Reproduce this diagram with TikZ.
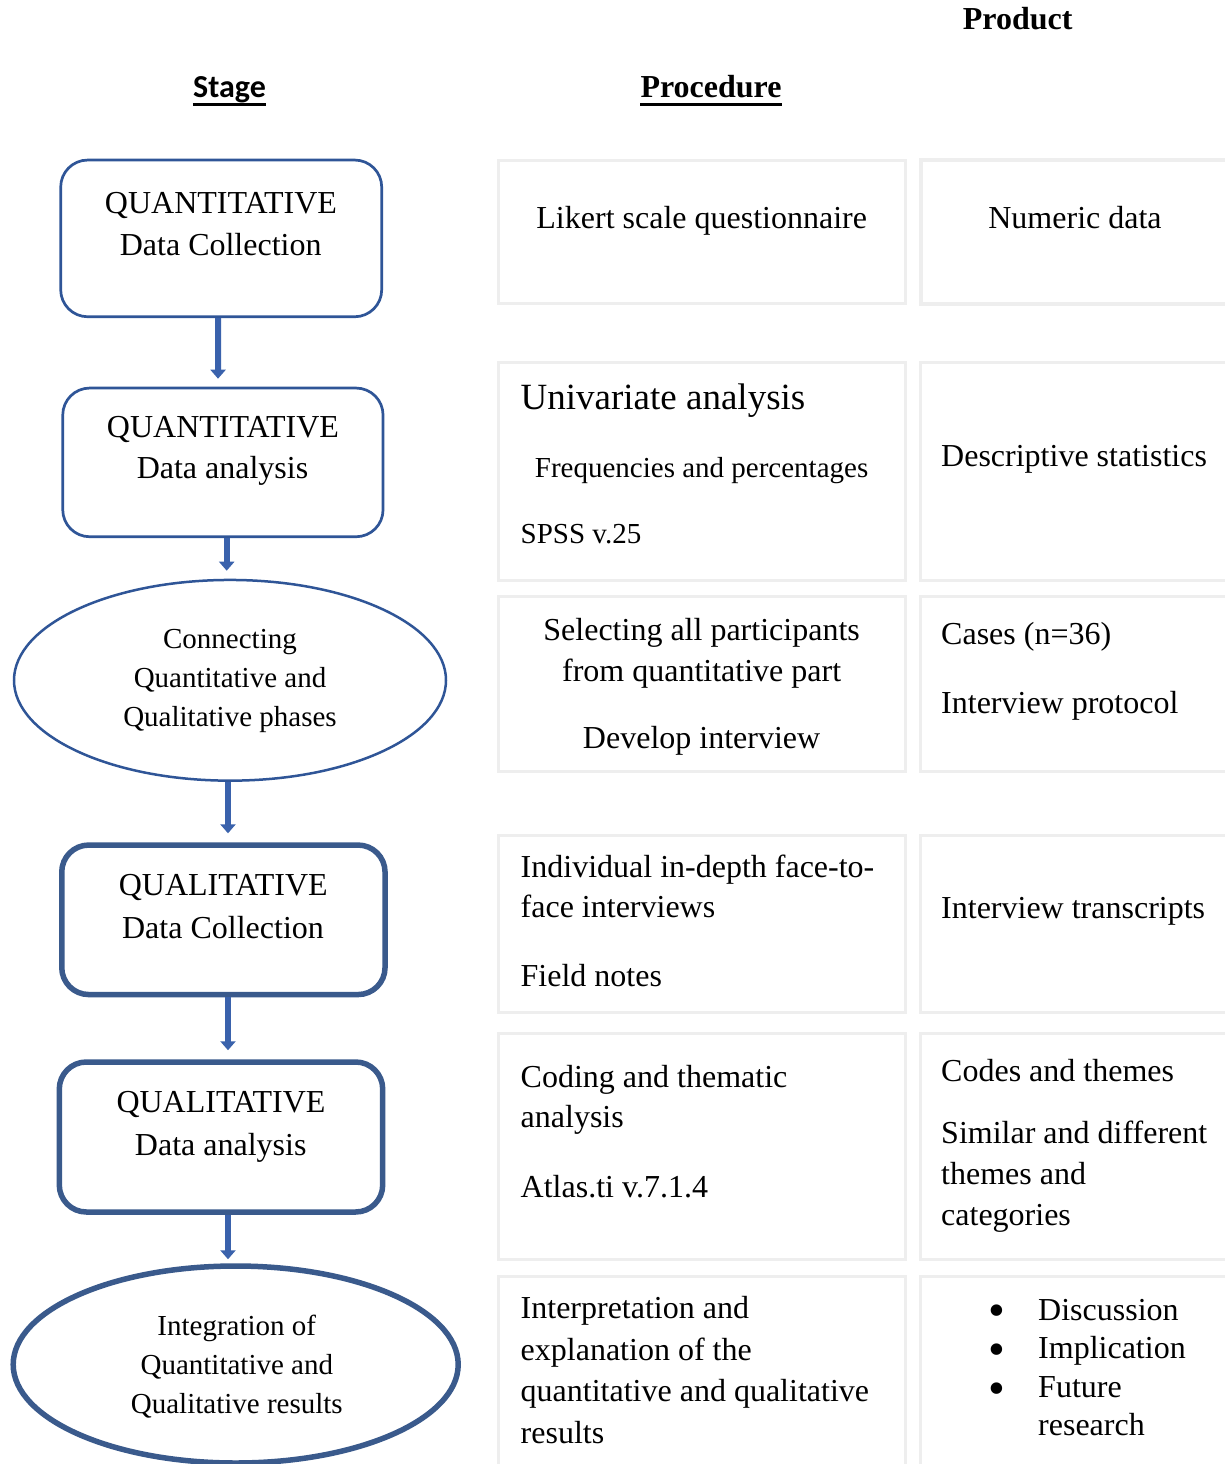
\documentclass[tikz,border=0pt]{standalone}
\usepackage{fontspec}
\setmainfont{Liberation Serif}
\newfontfamily\stagefont{Carlito}
\usetikzlibrary{arrows.meta,shapes.geometric}
\definecolor{boxblue}{RGB}{47,85,151}
\definecolor{thickblue}{RGB}{58,90,140}
\definecolor{arrowblue}{RGB}{58,98,172}
\definecolor{cellgray}{RGB}{238,238,238}
\begin{document}
\begin{tikzpicture}[x=1pt,y=-1pt,
  stagebox/.style={draw=boxblue, line width=2.7pt, rounded corners=27pt, inner sep=0pt},
  stagethick/.style={stagebox, draw=thickblue, line width=5.5pt},
  ellbox/.style={ellipse, draw=boxblue, line width=2.5pt, inner sep=0pt},
  cell/.style={draw=cellgray, line width=3pt, inner sep=0pt},
  txt/.style={inner sep=0pt, font=\fontsize{32}{42}\selectfont},
  etxt/.style={inner sep=0pt, font=\fontsize{29}{39}\selectfont},
  stxt/.style={inner sep=0pt, font=\fontsize{29}{39}\selectfont},
  btxt/.style={inner sep=0pt, font=\fontsize{37}{44}\selectfont},
  bul/.style={inner sep=0pt, font=\fontsize{48}{48}\selectfont},
  head/.style={inner sep=0pt, font=\fontsize{32}{42}\selectfont\bfseries},
  flow/.style={draw=arrowblue, line width=6pt, -{Triangle[width=15pt,length=9pt]}}
]
\clip (0,0) rectangle (1225,1464);
\fill[white] (0,0) rectangle (1225,1464);

% headers
\node[head, anchor=base] (hprod) at (1017.7,30) {Product};
\node[inner sep=0pt, font=\stagefont\fontsize{32}{42}\selectfont\bfseries, anchor=base] (hstage) at (229.5,97.5) {Stage};
\node[head, anchor=base] (hproc) at (711,97.5) {Procedure};
\draw[line width=3pt] ([yshift=-7pt]hstage.base west) -- ([yshift=-7pt]hstage.base east);
\draw[line width=3.5pt] ([yshift=-7pt]hproc.base west) -- ([yshift=-7pt]hproc.base east);

% stage column
\node[stagebox, minimum width=321pt, minimum height=156.7pt] (s1) at (221.2,238.4) {};
\node[stagebox, minimum width=320.3pt, minimum height=148.7pt] (s2) at (222.9,462.4) {};
\node[ellbox, minimum width=432pt, minimum height=200.7pt] (s3) at (230,680.3) {};
\node[stagethick, minimum width=323.3pt, minimum height=149.5pt] (s4) at (223.4,919.8) {};
\node[stagethick, minimum width=323.4pt, minimum height=150pt] (s5) at (221,1137) {};
\node[ellbox, draw=thickblue, line width=5.5pt, minimum width=445pt, minimum height=197pt] (s6) at (235.7,1364.5) {};

\node[txt, anchor=base] (s1a) at (221,213) {QUANTITATIVE};
\node[txt, anchor=base] (s1b) at (220.7,255) {Data Collection};
\node[txt, anchor=base] (s2a) at (223,437) {QUANTITATIVE};
\node[txt, anchor=base] (s2b) at (222.5,478.5) {Data analysis};
\node[etxt, anchor=base] (s3a) at (230,648) {Connecting};
\node[etxt, anchor=base] (s3b) at (230,687) {Quantitative and};
\node[etxt, anchor=base] (s3c) at (230,726) {Qualitative phases};
\node[txt, anchor=base] (s4a) at (223.3,895) {QUALITATIVE};
\node[txt, anchor=base] (s4b) at (223,938) {Data Collection};
\node[txt, anchor=base] (s5a) at (221,1112) {QUALITATIVE};
\node[txt, anchor=base] (s5b) at (220.7,1155) {Data analysis};
\node[etxt, anchor=base] (s6a) at (236.8,1335.5) {Integration of};
\node[etxt, anchor=base] (s6b) at (236.8,1374.5) {Quantitative and};
\node[etxt, anchor=base] (s6c) at (236.8,1413.5) {Qualitative results};

% arrows
\draw[flow, shorten >=8pt] ([xshift=-3pt]s1.south) -- ([xshift=-4.9pt]s2.north);
\draw[flow, shorten >=8pt] ([xshift=3.8pt]s2.south) -- ([xshift=-3.3pt]s3.north);
\draw[flow, shorten >=9pt] ([xshift=-2pt]s3.south) -- ([xshift=4.6pt]s4.north);
\draw[flow, shorten >=9pt] ([xshift=4.6pt]s4.south) -- ([xshift=7pt]s5.north);
\draw[flow, shorten >=4pt] ([xshift=7pt]s5.south) -- ([xshift=-7.7pt]s6.north);

% procedure cells
\node[cell, minimum width=406.5pt, minimum height=143pt] (p1) at (701.75,231.5) {};
\node[cell, minimum width=406.5pt, minimum height=218.7pt] (p2) at (701.75,471.35) {};
\node[cell, minimum width=406.5pt, minimum height=175pt] (p3) at (701.75,683.5) {};
\node[cell, minimum width=406.5pt, minimum height=177pt] (p4) at (701.75,923.5) {};
\node[cell, minimum width=406.5pt, minimum height=226pt] (p5) at (701.75,1146) {};
\node[cell, minimum width=406.5pt, minimum height=199pt] (p6) at (701.75,1375.5) {};
% product cells
\node[cell, line width=4pt, minimum width=319.5pt, minimum height=144pt] (d1) at (1080.25,232) {};
\node[cell, minimum width=319.5pt, minimum height=218.7pt] (d2) at (1080.25,471.35) {};
\node[cell, minimum width=319.5pt, minimum height=175pt] (d3) at (1080.25,683.5) {};
\node[cell, minimum width=319.5pt, minimum height=177pt] (d4) at (1080.25,923.5) {};
\node[cell, minimum width=319.5pt, minimum height=226pt] (d5) at (1080.25,1146) {};
\node[cell, minimum width=319.5pt, minimum height=199pt] (d6) at (1080.25,1375.5) {};

% row 1
\node[txt, anchor=base] (p1a) at (701.7,228) {Likert scale questionnaire};
\node[txt, anchor=base] (d1a) at (1075,228) {Numeric data};
% row 2
\node[btxt, anchor=base west] (p2a) at (520.5,409) {Univariate analysis};
\node[stxt, anchor=base] (p2b) at (701.6,477) {Frequencies and percentages};
\node[stxt, anchor=base west] (p2c) at (520.5,543) {SPSS v.25};
\node[txt, anchor=base west] (d2a) at (941,466) {Descriptive statistics};
% row 3
\node[txt, anchor=base] (p3a) at (701.6,640) {Selecting all participants};
\node[txt, anchor=base] (p3b) at (701.6,681) {from quantitative part};
\node[txt, anchor=base] (p3c) at (701.6,748) {Develop interview};
\node[txt, anchor=base west] (d3a) at (941,644) {Cases (n=36)};
\node[txt, anchor=base west] (d3b) at (941,713) {Interview protocol};
% row 4
\node[txt, anchor=base west] (p4a) at (520.5,877) {Individual in-depth face-to-};
\node[txt, anchor=base west] (p4b) at (520.5,917.5) {face interviews};
\node[txt, anchor=base west] (p4c) at (520.5,986) {Field notes};
\node[txt, anchor=base west] (d4a) at (941,918) {Interview transcripts};
% row 5
\node[txt, anchor=base west] (p5a) at (520.5,1087) {Coding and thematic};
\node[txt, anchor=base west] (p5b) at (520.5,1127.5) {analysis};
\node[txt, anchor=base west] (p5c) at (520.5,1197) {Atlas.ti v.7.1.4};
\node[txt, anchor=base west] (d5a) at (941,1081) {Codes and themes};
\node[txt, anchor=base west] (d5b) at (941,1143) {Similar and different};
\node[txt, anchor=base west] (d5c) at (941,1184) {themes and};
\node[txt, anchor=base west] (d5d) at (941,1225) {categories};
% row 6
\node[txt, anchor=base west] (p6a) at (520.5,1318) {Interpretation and};
\node[txt, anchor=base west] (p6b) at (520.5,1360) {explanation of the};
\node[txt, anchor=base west] (p6c) at (520.5,1401) {quantitative and qualitative};
\node[txt, anchor=base west] (p6d) at (520.5,1443) {results};
\node[bul, anchor=base] (b1) at (997,1326) {•};
\node[bul, anchor=base] (b2) at (997,1365) {•};
\node[bul, anchor=base] (b3) at (997,1404) {•};
\node[txt, anchor=base west] (d6a) at (1038,1320) {Discussion};
\node[txt, anchor=base west] (d6b) at (1038,1358) {Implication};
\node[txt, anchor=base west] (d6c) at (1038,1397) {Future};
\node[txt, anchor=base west] (d6d) at (1038,1435) {research};
\end{tikzpicture}
\end{document}
